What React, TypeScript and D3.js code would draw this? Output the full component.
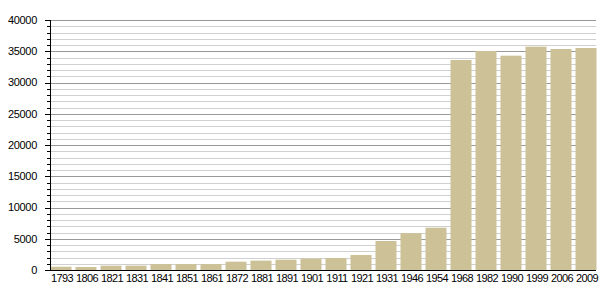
import React from "react";
import * as d3 from "d3";

const years = ["1793","1806","1821","1831","1841","1851","1861","1872","1881","1891","1901","1911","1921","1931","1946","1954","1968","1982","1990","1999","2006","2009"];
const population = [520,480,690,700,960,960,950,1330,1500,1650,1810,1920,2400,4640,5900,6770,33600,35040,34290,35730,35360,35520];
const yTicks = [0,5000,10000,15000,20000,25000,30000,35000,40000];

const W = 605, H = 300;
const left = 50, right = 600, top = 20, bottom = 270;

export default function App() {
  const x = d3.scaleBand<string>().domain(years).range([left, right]).paddingInner(0).paddingOuter(0);
  const y = d3.scaleLinear().domain([0, 40000]).range([bottom, top]);
  const minor = d3.range(0, 40001, 1000);
  const step = x.step();
  const barW = 21;
  const font = "'Liberation Sans', Arial, sans-serif";
  return (
    <svg width={W} height={H} style={{ position: "absolute", left: 0, top: 0, background: "#fff" }}>
      {minor.map((v) => (
        <line key={"g" + v} x1={left} x2={596} y1={Math.round(y(v)) + 0.5} y2={Math.round(y(v)) + 0.5}
          stroke={v % 5000 === 0 ? "#999" : "#d0d0d0"} strokeWidth={1} />
      ))}
      {years.map((yr, i) => (
        <rect key={yr} x={(x(yr) as number) + 0.5} width={barW} y={y(population[i])}
          height={bottom - y(population[i])} fill="#ccc197" />
      ))}
      <line x1={left + 0.5} x2={left + 0.5} y1={top} y2={bottom} stroke="#000" />
      <line x1={left} x2={596} y1={bottom + 0.5} y2={bottom + 0.5} stroke="#000" />
      {minor.map((v) => (
        <line key={"t" + v} x1={v % 5000 === 0 ? left - 5 : left - 3} x2={left}
          y1={Math.round(y(v)) + 0.5} y2={Math.round(y(v)) + 0.5} stroke="#000" />
      ))}
      {yTicks.map((v) => (
        <text key={"l" + v} x={37} y={y(v)} dy="0.35em" textAnchor="end" letterSpacing={-0.3}
          fontFamily={font} fontSize={11} fill="#000">{v}</text>
      ))}
      {years.map((yr) => (
        <text key={"x" + yr} x={(x(yr) as number) + step / 2 - 0.5} y={bottom + 8} dy="0.35em"
          textAnchor="middle" letterSpacing={-0.6} fontFamily={font} fontSize={11} fill="#000">{yr}</text>
      ))}
    </svg>
  );
}
